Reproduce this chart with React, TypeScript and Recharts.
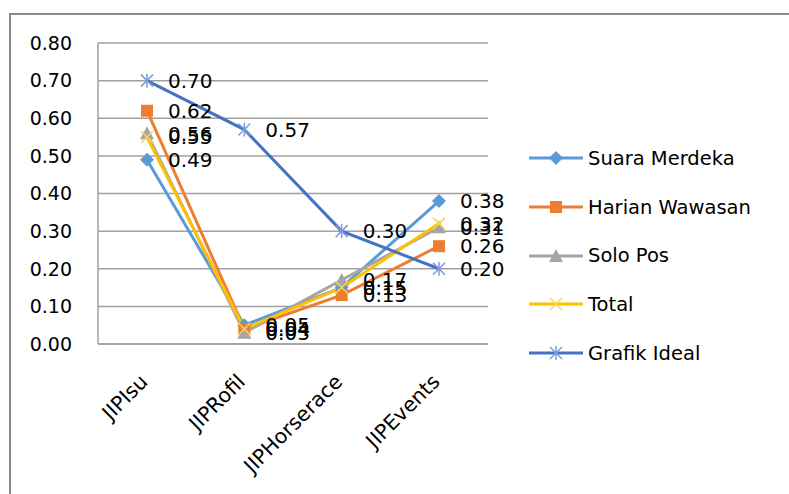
import React from 'react';
import { LineChart, Line, XAxis, YAxis, CartesianGrid, LabelList } from 'recharts';

const categories = ['JIPIsu', 'JIPRofil', 'JIPHorserace', 'JIPEvents'];
const suaraMerdeka = [0.49, 0.05, 0.15, 0.38];
const harianWawasan = [0.62, 0.04, 0.13, 0.26];
const soloPos = [0.56, 0.03, 0.17, 0.31];
const total = [0.55, 0.04, 0.15, 0.32];
const grafikIdeal = [0.70, 0.57, 0.30, 0.20];
const yTicks = [0, 0.1, 0.2, 0.3, 0.4, 0.5, 0.6, 0.7, 0.8];

const FONT = '"DejaVu Sans", Verdana, sans-serif';

const data = categories.map((category, i) => ({
  category,
  suara: suaraMerdeka[i],
  harian: harianWawasan[i],
  solo: soloPos[i],
  total: total[i],
  ideal: grafikIdeal[i],
}));

// marker shapes, roughly like Excel's default line markers
const Marker = ({ kind, cx, cy, color }: { kind: string; cx: number; cy: number; color: string }) => {
  if (kind === 'diamond') {
    return <polygon points={`${cx},${cy - 7} ${cx + 7},${cy} ${cx},${cy + 7} ${cx - 7},${cy}`} fill={color} />;
  }
  if (kind === 'square') {
    return <rect x={cx - 6} y={cy - 6} width={12} height={12} fill={color} />;
  }
  if (kind === 'triangle') {
    return <polygon points={`${cx},${cy - 7} ${cx + 7},${cy + 6} ${cx - 7},${cy + 6}`} fill={color} />;
  }
  if (kind === 'x') {
    return (
      <g stroke={color} strokeWidth={1.5}>
        <line x1={cx - 6} y1={cy - 6} x2={cx + 6} y2={cy + 6} />
        <line x1={cx - 6} y1={cy + 6} x2={cx + 6} y2={cy - 6} />
      </g>
    );
  }
  return (
    <g stroke={color} strokeWidth={1.5}>
      <line x1={cx - 6} y1={cy - 6} x2={cx + 6} y2={cy + 6} />
      <line x1={cx - 6} y1={cy + 6} x2={cx + 6} y2={cy - 6} />
      <line x1={cx} y1={cy - 7} x2={cx} y2={cy + 7} />
    </g>
  );
};

const seriesList = [
  { key: 'suara', name: 'Suara Merdeka', color: '#5B9BD5', marker: 'diamond', markerColor: '#5B9BD5' },
  { key: 'harian', name: 'Harian Wawasan', color: '#ED7D31', marker: 'square', markerColor: '#ED7D31' },
  { key: 'solo', name: 'Solo Pos', color: '#A5A5A5', marker: 'triangle', markerColor: '#A5A5A5' },
  { key: 'total', name: 'Total', color: '#FFC000', marker: 'x', markerColor: '#FFD34D' },
  { key: 'ideal', name: 'Grafik Ideal', color: '#4472C4', marker: 'star', markerColor: '#7C9CDA' },
];

const renderLabel = (props: any) => {
  const { x, y, value } = props;
  return (
    <text x={x + 21} y={y} dy="0.36em" fontSize={20} fontFamily={FONT} fill="#000" textAnchor="start">
      {Number(value).toFixed(2)}
    </text>
  );
};

const XTick = (props: any) => {
  const { x, y, payload } = props;
  return (
    <text
      x={x + 2}
      y={y + 31}
      transform={`rotate(-45 ${x + 2} ${y + 31})`}
      textAnchor="end"
      fontSize={20.5}
      fontFamily={FONT}
      fill="#000"
    >
      {payload.value}
    </text>
  );
};

const YTick = (props: any) => {
  const { x, y, payload } = props;
  return (
    <text x={x - 18} y={y} dy="0.36em" textAnchor="end" fontSize={19} fontFamily={FONT} fill="#000">
      {Number(payload.value).toFixed(2)}
    </text>
  );
};

const ChartLegend = () => (
  <div style={{ position: 'absolute', left: 527, top: 134, width: 260, fontFamily: FONT, fontSize: 19.5, color: '#000' }}>
    {seriesList.map(s => (
      <div key={s.key} style={{ height: 48.7, display: 'flex', alignItems: 'center' }}>
        <svg width={58} height={20} style={{ marginRight: 3 }}>
          <line x1={2} y1={10} x2={56} y2={10} stroke={s.color} strokeWidth={3} />
          <Marker kind={s.marker} cx={29} cy={10} color={s.markerColor} />
        </svg>
        <span>{s.name}</span>
      </div>
    ))}
  </div>
);

export default function App() {
  return (
    <div style={{ position: 'absolute', left: 0, top: 0, width: 789, height: 494, background: '#fff' }}>
      <div
        style={{
          position: 'absolute',
          left: 9,
          top: 13,
          width: 780,
          height: 481,
          borderTop: '2px solid #8a8a8a',
          borderLeft: '2px solid #8a8a8a',
          boxSizing: 'border-box',
        }}
      />
      <LineChart
        width={789}
        height={494}
        data={data}
        margin={{ top: 43, right: 301, left: 38, bottom: 0 }}
        style={{ position: 'absolute', left: 0, top: 0 }}
      >
        <CartesianGrid vertical={false} stroke="#A0A0A0" strokeWidth={1.5} />
        <XAxis
          dataKey="category"
          tick={<XTick />}
          tickLine={false}
          axisLine={{ stroke: '#A0A0A0', strokeWidth: 1.5 }}
          interval={0}
          height={150}
          padding={{ left: 49, right: 49 }}
        />
        <YAxis
          domain={[0, 0.8]}
          ticks={yTicks}
          tick={<YTick />}
          tickLine={false}
          axisLine={{ stroke: '#A0A0A0', strokeWidth: 1.5 }}
          width={60}
        />
        {seriesList.map(s => (
          <Line
            key={s.key}
            type="linear"
            dataKey={s.key}
            name={s.name}
            stroke={s.color}
            strokeWidth={3}
            isAnimationActive={false}
            activeDot={false}
            dot={(p: any) => (
              <Marker key={`${s.key}-${p.index}`} kind={s.marker} cx={p.cx} cy={p.cy} color={s.markerColor} />
            )}
          >
            <LabelList dataKey={s.key} content={renderLabel} />
          </Line>
        ))}
      </LineChart>
      <ChartLegend />
    </div>
  );
}
